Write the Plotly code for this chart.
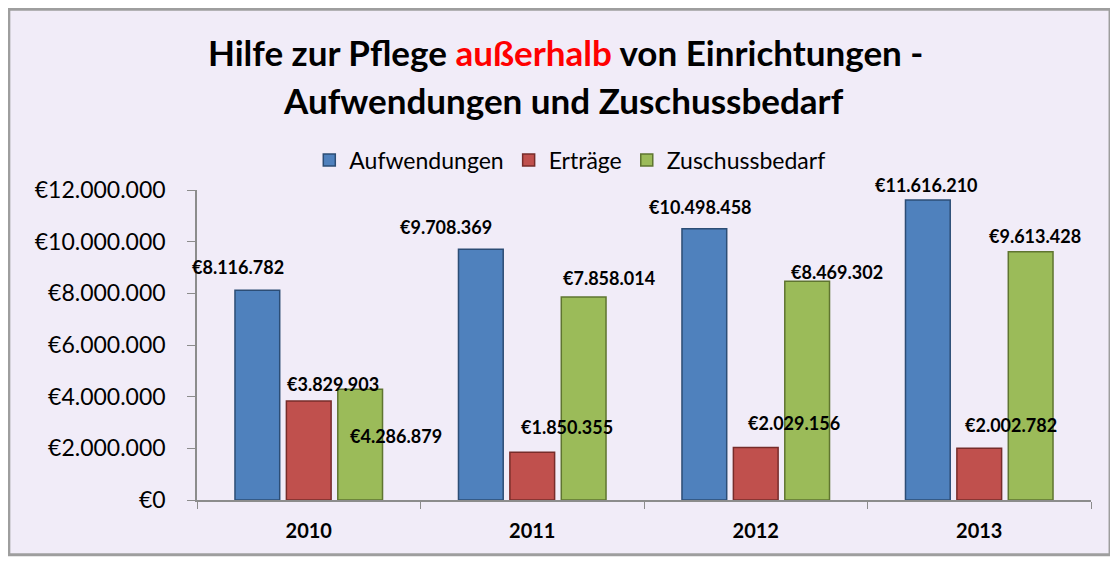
import plotly.graph_objects as go

years = ["2010", "2011", "2012", "2013"]
series_names = ["Aufwendungen", "Erträge", "Zuschussbedarf"]
aufwendungen = [8116782, 9708369, 10498458, 11616210]
ertraege = [3829903, 1850355, 2029156, 2002782]
zuschussbedarf = [4286879, 7858014, 8469302, 9613428]
y_ticks = [0, 2000000, 4000000, 6000000, 8000000, 10000000, 12000000]

values = [aufwendungen, ertraege, zuschussbedarf]
colors = ["#4F81BD", "#C0504D", "#9BBB59"]
edge = ["#2C4D75", "#772C2A", "#5F7530"]

FONT = "Lato, Calibri, sans-serif"

def euro(v):
    return "€" + f"{v:,}".replace(",", ".")

fig = go.Figure()
for name, vals, c, e in zip(series_names, values, colors, edge):
    fig.add_trace(go.Bar(
        x=years, y=vals, name=name,
        marker=dict(color=c, line=dict(color=e, width=1.5)),
    ))

# label offsets (pixels) per series/point
xshifts = [[-18, -33, -2, 0], [24, 35, 38, 32], [34, 24, 28, 3]]
yshifts = [[25, 24, 24, 17], [19, 27, 27, 25], [-45, 21, 11, 18]]
bar_off = [-53, 0, 53]
ann = []
for si, vals in enumerate(values):
    for pi, v in enumerate(vals):
        ann.append(dict(
            x=pi, y=v, xref="x", yref="y", text="<b>" + euro(v) + "</b>",
            showarrow=False, xshift=bar_off[si] + xshifts[si][pi],
            yshift=yshifts[si][pi] - 2,
            font=dict(family=FONT, size=18, color="black"),
        ))

ann.append(dict(
    x=0.412, y=1.445, xref="paper", yref="paper", yanchor="middle", xanchor="center",
    text="<b>Hilfe zur Pflege <span style='color:#FF0000'>außerhalb</span> von Einrichtungen -</b>",
    showarrow=False, font=dict(family=FONT, size=35, color="black"),
))
ann.append(dict(
    x=0.41, y=1.29, xref="paper", yref="paper", yanchor="middle", xanchor="center",
    text="<b>Aufwendungen und Zuschussbedarf</b>",
    showarrow=False, font=dict(family=FONT, size=35, color="black"),
))

fig.update_layout(
    width=1110, height=555,
    margin=dict(l=189, r=27, t=182, b=63),
    paper_bgcolor="white", plot_bgcolor="rgba(0,0,0,0)",
    barmode="group", bargap=0.31, bargroupgap=0.13,
    font=dict(family=FONT, size=23, color="black"),
    showlegend=True,
    legend=dict(orientation="h", x=0.417, xanchor="center", y=1.097, yanchor="middle",
                font=dict(family=FONT, size=23), bgcolor="rgba(0,0,0,0)",
                itemwidth=30, traceorder="normal"),
    annotations=ann,
    shapes=[dict(type="rect", xref="paper", yref="paper", layer="below",
                 x0=-0.2105, x1=1.0213, y0=-0.177, y1=1.583,
                 fillcolor="#F1ECF8", line=dict(color="#9E9E9E", width=3))],
)
fig.update_yaxes(range=[0, 12000000], tickvals=y_ticks,
                 ticktext=[euro(v) for v in y_ticks],
                 showgrid=False, showline=True, linecolor="#8C8C8C", linewidth=1.5,
                 ticks="outside", ticklen=8, tickcolor="#8C8C8C", ticklabelstandoff=17,
                 tickfont=dict(family=FONT, size=23), zeroline=False)
fig.update_xaxes(type="category", range=[-0.5, 3.5], showline=True, linecolor="#8C8C8C", linewidth=1.5,
                 ticks="outside", ticklen=7, tickcolor="#8C8C8C", ticklabelstandoff=12,
                 tickson="boundaries", tickfont=dict(family=FONT, size=20),
                 ticktext=["<b>" + y + "</b>" for y in years], tickvals=years)

fig.write_html("out.html")
